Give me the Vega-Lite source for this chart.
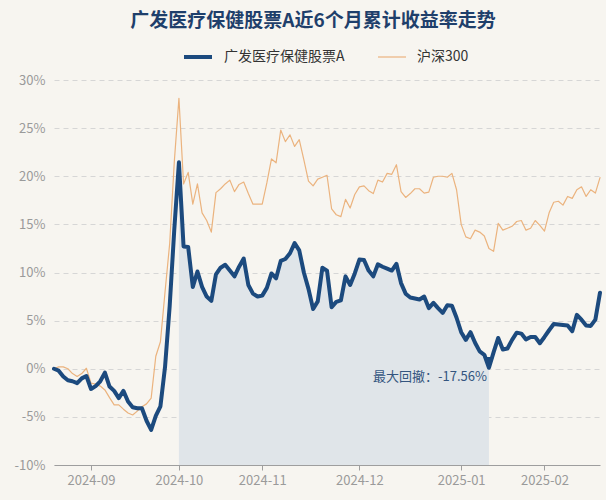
{
 "$schema": "https://vega.github.io/schema/vega-lite/v6.json",
 "width": 546,
 "height": 385,
 "autosize": {"type": "none"},
 "padding": {"left": 54, "top": 80, "right": 6, "bottom": 35},
 "background": "#f7f5f0",
 "title": {"text": "广发医疗保健股票A近6个月累计收益率走势", "fontSize": 19, "fontWeight": "bold", "color": "#1f3f6b", "font": "Noto Sans CJK SC", "anchor": "middle", "frame": "bounds", "offset": 10, "dx": 5},
 "config": {"view": {"stroke": null}, "font": "Noto Sans CJK SC"},
 "data": {"values": [
  {"date":"2024-08-21","fund":0,"hs300":0},
  {"date":"2024-08-22","fund":-0.2,"hs300":0.2},
  {"date":"2024-08-23","fund":-0.8,"hs300":0.2},
  {"date":"2024-08-26","fund":-1.2,"hs300":0.0},
  {"date":"2024-08-27","fund":-1.3,"hs300":-0.5},
  {"date":"2024-08-28","fund":-1.5,"hs300":-0.8},
  {"date":"2024-08-29","fund":-1.0,"hs300":-0.5},
  {"date":"2024-08-30","fund":-0.75,"hs300":0.05},
  {"date":"2024-09-02","fund":-2.1,"hs300":-1.5},
  {"date":"2024-09-03","fund":-1.8,"hs300":-1.6},
  {"date":"2024-09-04","fund":-1.3,"hs300":-1.8},
  {"date":"2024-09-05","fund":-0.4,"hs300":-2.2},
  {"date":"2024-09-06","fund":-1.85,"hs300":-3.0},
  {"date":"2024-09-09","fund":-2.3,"hs300":-3.75},
  {"date":"2024-09-10","fund":-3.05,"hs300":-3.75},
  {"date":"2024-09-11","fund":-2.3,"hs300":-4.2},
  {"date":"2024-09-12","fund":-3.4,"hs300":-4.6},
  {"date":"2024-09-13","fund":-4.0,"hs300":-4.8},
  {"date":"2024-09-18","fund":-4.1,"hs300":-4.4},
  {"date":"2024-09-19","fund":-4.1,"hs300":-3.95},
  {"date":"2024-09-20","fund":-5.4,"hs300":-3.65},
  {"date":"2024-09-23","fund":-6.35,"hs300":-3.05},
  {"date":"2024-09-24","fund":-4.9,"hs300":1.3},
  {"date":"2024-09-25","fund":-3.9,"hs300":2.8},
  {"date":"2024-09-26","fund":0.2,"hs300":8.0},
  {"date":"2024-09-27","fund":6.5,"hs300":13.0},
  {"date":"2024-09-30","fund":14.5,"hs300":21.5},
  {"date":"2024-10-08","fund":21.45,"hs300":28.1},
  {"date":"2024-10-09","fund":12.7,"hs300":19.2},
  {"date":"2024-10-10","fund":12.65,"hs300":20.4},
  {"date":"2024-10-11","fund":8.5,"hs300":17.1},
  {"date":"2024-10-14","fund":10.1,"hs300":19.2},
  {"date":"2024-10-15","fund":8.5,"hs300":16.2},
  {"date":"2024-10-16","fund":7.5,"hs300":15.4},
  {"date":"2024-10-17","fund":7.05,"hs300":14.2},
  {"date":"2024-10-18","fund":9.8,"hs300":18.3},
  {"date":"2024-10-21","fund":10.5,"hs300":18.7},
  {"date":"2024-10-22","fund":10.8,"hs300":19.2},
  {"date":"2024-10-23","fund":10.2,"hs300":19.6},
  {"date":"2024-10-24","fund":9.6,"hs300":18.4},
  {"date":"2024-10-25","fund":10.6,"hs300":19.15},
  {"date":"2024-10-28","fund":11.45,"hs300":19.4},
  {"date":"2024-10-29","fund":8.7,"hs300":18.2},
  {"date":"2024-10-30","fund":7.8,"hs300":17.1},
  {"date":"2024-10-31","fund":7.5,"hs300":17.1},
  {"date":"2024-11-01","fund":7.6,"hs300":17.1},
  {"date":"2024-11-04","fund":8.4,"hs300":19.3},
  {"date":"2024-11-05","fund":9.9,"hs300":21.8},
  {"date":"2024-11-06","fund":9.4,"hs300":21.4},
  {"date":"2024-11-07","fund":11.2,"hs300":24.8},
  {"date":"2024-11-08","fund":11.4,"hs300":23.6},
  {"date":"2024-11-11","fund":12.0,"hs300":24.3},
  {"date":"2024-11-12","fund":13.05,"hs300":23.1},
  {"date":"2024-11-13","fund":12.3,"hs300":23.8},
  {"date":"2024-11-14","fund":10.0,"hs300":21.7},
  {"date":"2024-11-15","fund":8.3,"hs300":19.5},
  {"date":"2024-11-18","fund":6.2,"hs300":19.0},
  {"date":"2024-11-19","fund":7.0,"hs300":19.7},
  {"date":"2024-11-20","fund":10.5,"hs300":19.9},
  {"date":"2024-11-21","fund":10.2,"hs300":20.1},
  {"date":"2024-11-22","fund":6.4,"hs300":16.6},
  {"date":"2024-11-25","fund":6.95,"hs300":16.0},
  {"date":"2024-11-26","fund":7.1,"hs300":15.8},
  {"date":"2024-11-27","fund":9.6,"hs300":17.6},
  {"date":"2024-11-28","fund":8.7,"hs300":16.7},
  {"date":"2024-11-29","fund":9.9,"hs300":18.1},
  {"date":"2024-12-02","fund":11.35,"hs300":18.9},
  {"date":"2024-12-03","fund":11.3,"hs300":19.0},
  {"date":"2024-12-04","fund":10.2,"hs300":18.5},
  {"date":"2024-12-05","fund":9.6,"hs300":18.2},
  {"date":"2024-12-06","fund":10.85,"hs300":19.6},
  {"date":"2024-12-09","fund":10.6,"hs300":19.4},
  {"date":"2024-12-10","fund":10.4,"hs300":20.3},
  {"date":"2024-12-11","fund":10.2,"hs300":20.2},
  {"date":"2024-12-12","fund":10.9,"hs300":21.2},
  {"date":"2024-12-13","fund":8.9,"hs300":18.4},
  {"date":"2024-12-16","fund":7.8,"hs300":17.8},
  {"date":"2024-12-17","fund":7.4,"hs300":18.2},
  {"date":"2024-12-18","fund":7.3,"hs300":18.7},
  {"date":"2024-12-19","fund":7.2,"hs300":18.7},
  {"date":"2024-12-20","fund":7.5,"hs300":18.25},
  {"date":"2024-12-23","fund":6.3,"hs300":18.35},
  {"date":"2024-12-24","fund":6.85,"hs300":19.9},
  {"date":"2024-12-25","fund":6.3,"hs300":20.0},
  {"date":"2024-12-26","fund":5.8,"hs300":20.0},
  {"date":"2024-12-27","fund":6.6,"hs300":19.9},
  {"date":"2024-12-30","fund":6.55,"hs300":20.3},
  {"date":"2024-12-31","fund":5.3,"hs300":18.6},
  {"date":"2025-01-02","fund":3.8,"hs300":15.0},
  {"date":"2025-01-03","fund":3.0,"hs300":13.7},
  {"date":"2025-01-06","fund":3.8,"hs300":13.5},
  {"date":"2025-01-07","fund":2.7,"hs300":14.4},
  {"date":"2025-01-08","fund":1.8,"hs300":14.2},
  {"date":"2025-01-09","fund":1.45,"hs300":13.8},
  {"date":"2025-01-10","fund":0.1,"hs300":12.5},
  {"date":"2025-01-13","fund":1.7,"hs300":12.2},
  {"date":"2025-01-14","fund":3.2,"hs300":15.1},
  {"date":"2025-01-15","fund":2.0,"hs300":14.4},
  {"date":"2025-01-16","fund":2.1,"hs300":14.6},
  {"date":"2025-01-17","fund":3.0,"hs300":14.8},
  {"date":"2025-01-20","fund":3.75,"hs300":15.3},
  {"date":"2025-01-21","fund":3.65,"hs300":15.4},
  {"date":"2025-01-22","fund":3.05,"hs300":14.4},
  {"date":"2025-01-23","fund":3.3,"hs300":14.6},
  {"date":"2025-01-24","fund":3.3,"hs300":15.4},
  {"date":"2025-01-27","fund":2.65,"hs300":14.9},
  {"date":"2025-02-05","fund":3.3,"hs300":14.3},
  {"date":"2025-02-06","fund":4.0,"hs300":16.2},
  {"date":"2025-02-07","fund":4.65,"hs300":17.3},
  {"date":"2025-02-10","fund":4.6,"hs300":17.4},
  {"date":"2025-02-11","fund":4.55,"hs300":17.0},
  {"date":"2025-02-12","fund":4.5,"hs300":17.9},
  {"date":"2025-02-13","fund":3.9,"hs300":17.7},
  {"date":"2025-02-14","fund":5.6,"hs300":18.6},
  {"date":"2025-02-17","fund":5.1,"hs300":18.9},
  {"date":"2025-02-18","fund":4.5,"hs300":17.9},
  {"date":"2025-02-19","fund":4.45,"hs300":18.6},
  {"date":"2025-02-20","fund":5.1,"hs300":18.25},
  {"date":"2025-02-21","fund":7.9,"hs300":19.85}
 ]},
 "encoding": {
  "x": {"field": "date", "type": "ordinal", "scale": {"type": "point", "padding": 0},
   "axis": {"values": ["2024-09-02","2024-10-08","2024-11-01","2024-12-02","2025-01-02","2025-02-05"], "labelExpr": "substring(datum.value, 0, 7)", "title": null, "labelAngle": 0, "domainColor": "#9e9e9e", "tickColor": "#9e9e9e", "tickSize": 5, "labelColor": "#9a9a9a", "labelFontSize": 13, "labelPadding": 4, "grid": false}}
 },
 "layer": [
  {
   "transform": [{"filter": "datum.date >= '2024-10-08' && datum.date <= '2025-01-10'"}],
   "mark": {"type": "area", "color": "#e0e5e9", "opacity": 1},
   "encoding": {
    "y": {"field": "fund", "type": "quantitative", "scale": {"domain": [-10, 30]}},
    "y2": {"datum": -10}
   }
  },
  {
   "mark": {"type": "rule", "color": "#bababa", "strokeWidth": 2},
   "encoding": {"y": {"datum": 0}}
  },
  {
   "transform": [{"fold": ["hs300", "fund"], "as": ["series", "value"]}],
   "mark": {"type": "line", "strokeJoin": "round", "strokeCap": "round"},
   "encoding": {
    "y": {"field": "value", "type": "quantitative", "scale": {"domain": [-10, 30]},
     "axis": {"values": [-10, -5, 0, 5, 10, 15, 20, 25, 30], "labelExpr": "datum.value + '%'", "title": null, "domain": false, "ticks": false, "grid": true, "gridDash": [5, 4], "gridColor": "#d6d6d6", "labelColor": "#9a9a9a", "labelFontSize": 13, "labelPadding": 9}},
    "color": {"field": "series", "type": "ordinal", "scale": {"domain": ["fund", "hs300"], "range": ["#1c4a7e", "#ebb37e"]},
     "legend": {"orient": "none", "legendX": 128, "legendY": -39, "direction": "horizontal", "title": null, "symbolType": "stroke", "symbolSize": 784, "labelFontSize": 14, "labelColor": "#333333", "columnPadding": 30, "labelOffset": 10, "labelExpr": "datum.label == 'fund' ? '广发医疗保健股票A' : '沪深300'"}},
    "strokeWidth": {"field": "series", "type": "ordinal", "scale": {"domain": ["fund", "hs300"], "range": [4, 1.2]},
     "legend": {"orient": "none", "legendX": 128, "legendY": -39, "direction": "horizontal", "title": null, "symbolType": "stroke", "symbolSize": 784, "labelFontSize": 14, "labelColor": "#333333", "columnPadding": 30, "labelOffset": 10, "labelExpr": "datum.label == 'fund' ? '广发医疗保健股票A' : '沪深300'"}}
   }
  },
  {
   "data": {"values": [{"date": "2025-01-10", "fund": 0.1, "label": "最大回撤：-17.56%"}]},
   "mark": {"type": "text", "align": "right", "baseline": "middle", "dx": -2, "dy": 9, "fontSize": 13, "color": "#34557f"},
   "encoding": {"y": {"field": "fund", "type": "quantitative"}, "text": {"field": "label"}}
  },
  {
   "data": {"values": [{"date": "2025-01-10", "fund": 0.1, "label": "▼"}]},
   "mark": {"type": "text", "align": "center", "baseline": "middle", "dy": -6, "fontSize": 10, "color": "#1c4a7e"},
   "encoding": {"y": {"field": "fund", "type": "quantitative"}, "text": {"field": "label"}}
  }
 ]
}
